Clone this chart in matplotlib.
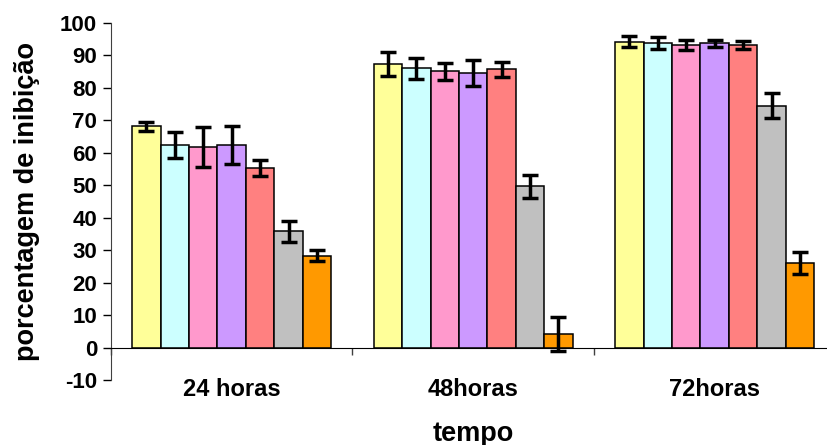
import matplotlib.pyplot as plt
import numpy as np

plt.rcParams['font.family'] = ['Liberation Sans', 'DejaVu Sans']
plt.rcParams['font.weight'] = 'bold'
plt.rcParams['axes.unicode_minus'] = False

categories = ['24 horas', '48horas', '72horas']
colors = ['#FFFF99', '#CCFFFF', '#FF99CC', '#CC99FF', '#FF8080', '#C0C0C0', '#FF9900']

# one row per series (bar colour), one column per time point
values = [
    [68.1, 87.3, 94.2],
    [62.3, 85.9, 93.7],
    [61.7, 85.0, 93.1],
    [62.3, 84.5, 93.6],
    [55.3, 85.6, 93.1],
    [35.8, 49.6, 74.5],
    [28.3, 4.1, 26.0],
]
errors = [
    [1.4, 3.6, 1.6],
    [4.1, 3.1, 1.8],
    [6.1, 2.7, 1.5],
    [5.8, 4.1, 1.2],
    [2.4, 2.4, 1.3],
    [3.2, 3.6, 3.9],
    [1.8, 5.3, 3.3],
]

n = len(values)
bar_w = 1.0 / (n + 1.5)
start = 0.75 * bar_w

fig = plt.figure(figsize=(8.28, 4.45), dpi=100)
ax = fig.add_axes([0.134, 0.146, 0.875, 0.803])

cats = np.arange(len(categories))
for i in range(n):
    x = cats + start + (i + 0.5) * bar_w
    ax.bar(x, values[i], width=bar_w, color=colors[i], edgecolor='black',
           linewidth=1.1, zorder=2)
    ax.errorbar(x, values[i], yerr=errors[i], fmt='none', ecolor='black',
                elinewidth=2.5, capsize=6, capthick=2.5, zorder=3)

ax.set_xlim(0, 3)
ax.set_ylim(-10, 100)
ax.set_yticks(range(-10, 101, 10))
ax.tick_params(axis='y', direction='out', length=6, width=1, labelsize=16, pad=4)

ax.spines['top'].set_visible(False)
ax.spines['right'].set_visible(False)
ax.spines['bottom'].set_position(('data', 0))
ax.spines['left'].set_color('#404040')

ax.set_xticks(cats + 0.5)
ax.set_xticklabels(categories)
ax.set_xticks(np.arange(0, 4), minor=True)
ax.tick_params(axis='x', which='major', length=0, labelsize=17, pad=22)
ax.tick_params(axis='x', which='minor', direction='out', length=5, width=1, color='#404040')

ax.set_xlabel('tempo', fontsize=19.5, fontweight='bold', labelpad=14)
ax.set_ylabel('porcentagem de inibição', fontsize=19.5, fontweight='bold', labelpad=14)

fig.savefig('out.png', dpi=100)
